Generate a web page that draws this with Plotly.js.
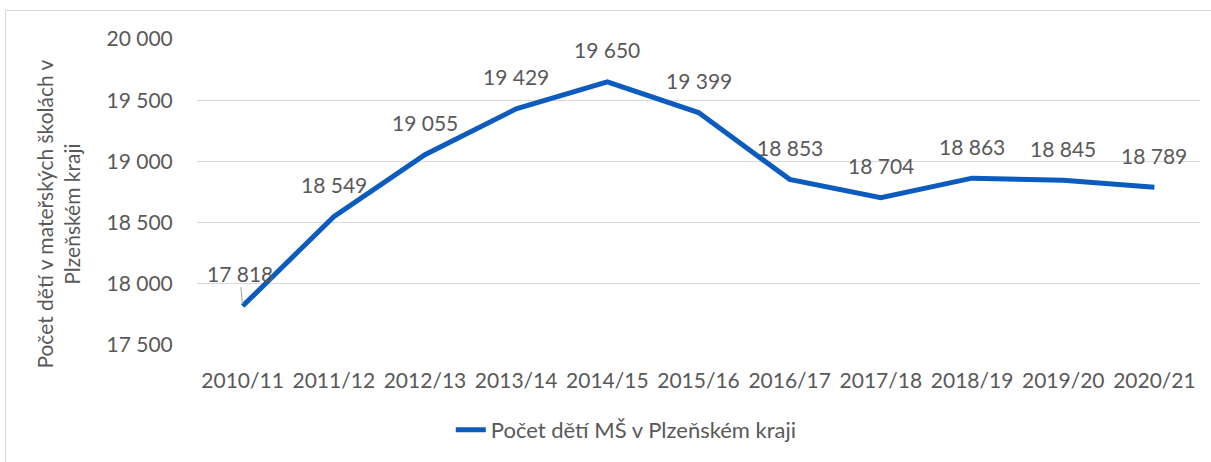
<!DOCTYPE html>
<html>
<head>
<meta charset="utf-8">
<script src="https://cdn.plot.ly/plotly-3.0.1.min.js"></script>
<style>
html,body{margin:0;padding:0;background:#fff;}
#wrap{position:relative;width:1211px;height:462px;overflow:hidden;}
#frame{position:absolute;left:5px;top:10px;width:1230px;height:480px;border:1.5px solid #d9d9d9;pointer-events:none;}
#chart{position:absolute;left:0;top:0;width:1211px;height:462px;}
</style>
</head>
<body>
<div id="wrap"><div id="chart"></div><div id="frame"></div></div>
<script>
const categories = ["2010/11","2011/12","2012/13","2013/14","2014/15","2015/16","2016/17","2017/18","2018/19","2019/20","2020/21"];
const values = [17818, 18549, 19055, 19429, 19650, 19399, 18853, 18704, 18863, 18845, 18789];
const seriesName = "Počet dětí MŠ v Plzeňském kraji";
const yTitle = "Počet dětí v mateřských školách v<br>Plzeňském kraji";
const yTicks = [17500, 18000, 18500, 19000, 19500, 20000];

function fmt(v){ return String(v).replace(/\B(?=(\d{3})+(?!\d))/g, " "); }

const FONT = "Lato, 'Open Sans', sans-serif";
const GRAY = "#595959";
const FS = 21;

const annotations = values.map((v, i) => {
  const a = {
    x: categories[i], y: v, xref: "x", yref: "y",
    text: fmt(v), font: {family: FONT, size: FS, color: GRAY},
    showarrow: false, yshift: 32, xanchor: "center", yanchor: "middle"
  };
  if (i === 0) {
    a.showarrow = true; a.arrowhead = 0; a.arrowwidth = 1; a.arrowcolor = "#a6a6a6";
    a.ax = -3; a.ay = -33; a.yshift = 0; a.standoff = 2;
  }
  return a;
});
annotations.push({
  xref: "paper", yref: "paper", x: -0.139, y: 0.428, xanchor: "center", yanchor: "middle",
  text: yTitle, textangle: -90, showarrow: false, align: "center",
  font: {family: FONT, size: FS, color: GRAY}
});

const trace = {
  x: categories, y: values, type: "scatter", mode: "lines",
  name: seriesName,
  line: {color: "#0B5CBE", width: 5}
};

const layout = {
  width: 1211, height: 462,
  margin: {l: 197, r: 11, t: 39, b: 117},
  paper_bgcolor: "rgba(0,0,0,0)", plot_bgcolor: "#fff",
  separators: ", ",
  font: {family: FONT, color: GRAY, size: FS},
  showlegend: true,
  legend: {orientation: "h", x: 0.428, xanchor: "center", y: -0.278, yanchor: "middle",
           font: {family: FONT, size: 22, color: GRAY}},
  xaxis: {
    type: "category", range: [-0.5, 10.5], showgrid: false, zeroline: false,
    showline: false, ticks: "outside", ticklen: 17, tickcolor: "rgba(0,0,0,0)",
    tickfont: {family: FONT, size: FS, color: GRAY}
  },
  yaxis: {
    range: [17500, 20000], tickvals: yTicks, ticktext: yTicks.map(fmt),
    showgrid: true, gridcolor: "#d9d9d9", gridwidth: 1.3, zeroline: false, showline: false,
    ticks: "outside", ticklen: 19, tickcolor: "rgba(0,0,0,0)",
    tickfont: {family: FONT, size: FS, color: GRAY}
  },
  annotations: annotations
};

Plotly.newPlot("chart", [trace], layout, {displayModeBar: false, staticPlot: true});
</script>
</body>
</html>
